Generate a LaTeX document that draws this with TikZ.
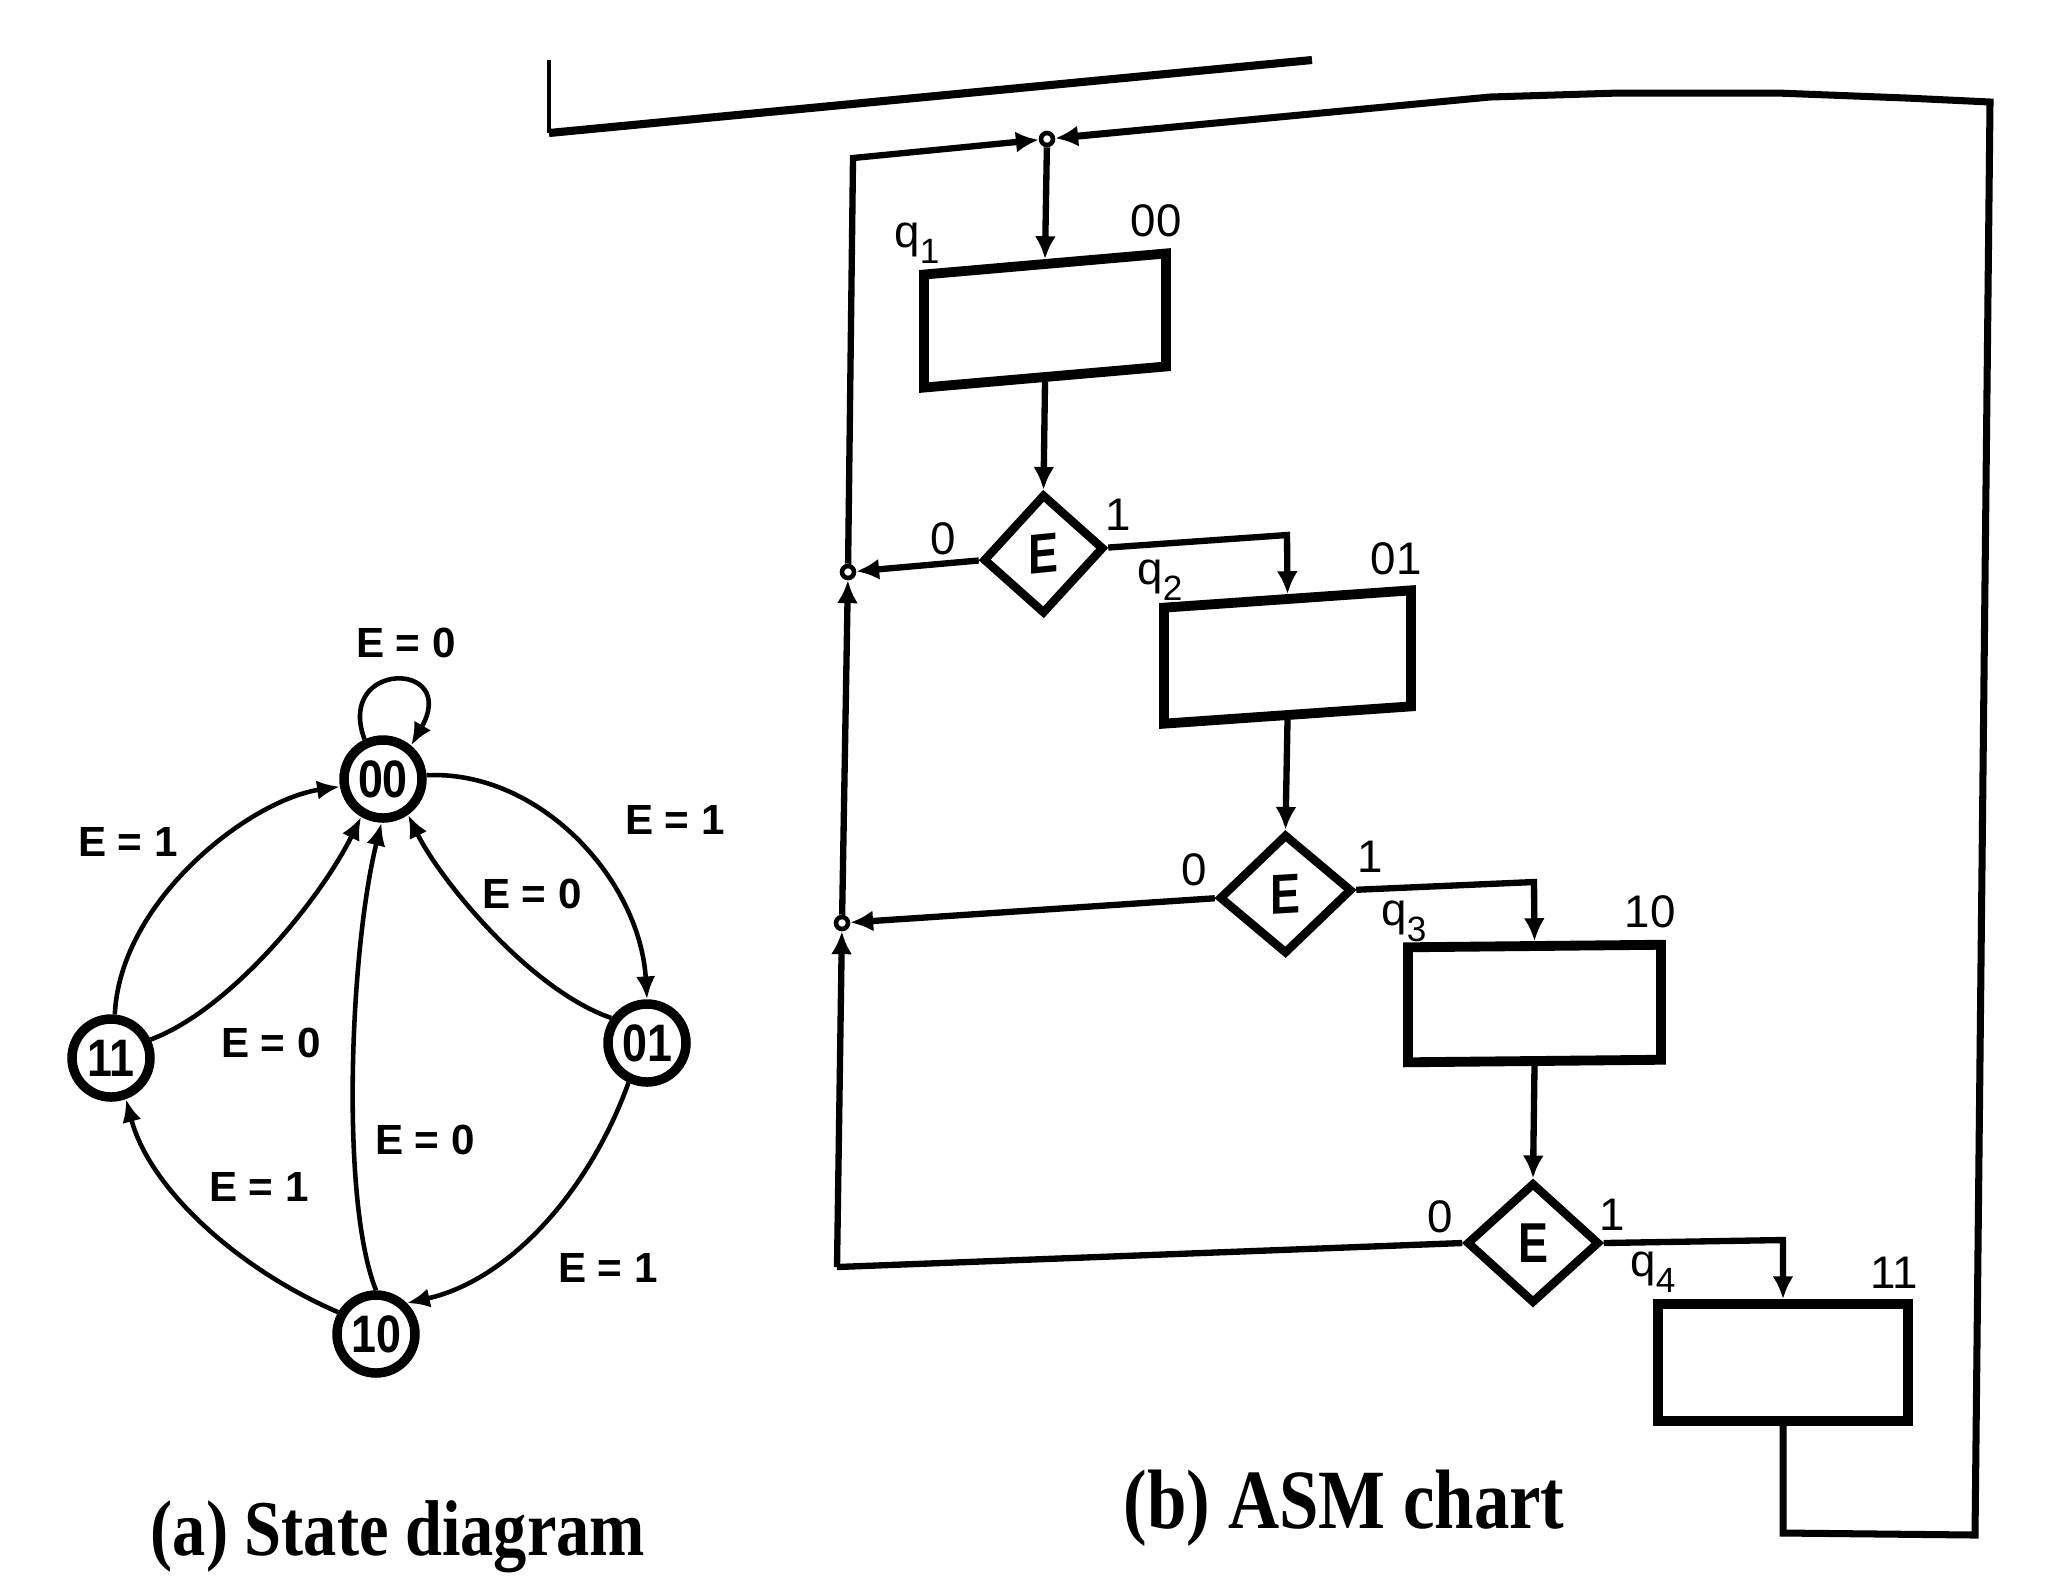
\documentclass[tikz,border=0pt]{standalone}
\usepackage{fontspec}
\setmainfont{Liberation Sans}
\newfontfamily\capfont{Liberation Serif}
\usepackage{graphicx}
\usetikzlibrary{shapes.geometric,arrows.meta}
\newcommand{\qlab}[1]{q\raisebox{-4.5pt}{\fontsize{10}{10}\selectfont #1}}
\begin{document}
\begin{tikzpicture}[x=0.1mm,y=-0.1mm,
  stnode/.style={circle,draw,line width=2.7pt,minimum size=7.8mm,inner sep=0pt,
     font=\fontsize{15}{15}\selectfont\bfseries},
  elab/.style={inner sep=0pt,font=\fontsize{12}{12}\selectfont\bfseries},
  sedge/.style={line width=1.3pt,-{Latex[length=6.5pt,width=5.5pt]}},
  sbox/.style={draw,line width=2.8pt,inner sep=0pt},
  dec/.style={diamond,draw,line width=2.4pt,inner sep=0pt,
     font=\fontsize{16}{16}\selectfont\bfseries},
  junc/.style={circle,draw,line width=1.3pt,fill=white,minimum size=1.2mm,inner sep=0pt},
  flow/.style={line width=1.8pt},
  arr/.style={line width=1.8pt,-{Latex[length=6.5pt,width=6pt]}},
  alab/.style={inner sep=0pt,font=\fontsize{13}{13}\selectfont},
  qlabel/.style={inner sep=0pt,font=\fontsize{13}{13}\selectfont},
  captext/.style={inner sep=0pt,anchor=base west}
]
\useasboundingbox (0,0) rectangle (2048,1582);

% ---------- fragment at top ----------
\coordinate (f1) at (549,60);
\coordinate (f2) at (549,133);
\coordinate (f3) at (1312,60);
\draw[line width=1.2pt] (f1) -- (f2);
\draw[line width=2.3pt] (f2) -- (f3);

% ---------- (a) state diagram ----------
\node[stnode] (s00) at (383,779) {\scalebox{0.85}[1]{00}};
\node[stnode] (s11) at (111,1058) {\scalebox{0.85}[1]{11}};
\node[stnode] (s01) at (647,1043) {\scalebox{0.85}[1]{01}};
\node[stnode] (s10) at (376,1334) {\scalebox{0.85}[1]{10}};

\draw[sedge] (s00.115) .. controls (335,660) and (460,660) .. (s00.50);
\draw[sedge] (s11.85) .. controls (120,900) and (250,800) .. (s00.190);
\draw[sedge] (s11.25) .. controls (230,1010) and (320,900) .. (s00.240);
\draw[sedge] (s00.5) .. controls (540,770) and (640,880) .. (s01.north);
\draw[sedge] (s01.145) .. controls (530,990) and (440,880) .. (s00.305);
\draw[sedge] (s10.north) .. controls (340,1200) and (350,950) .. (s00.268);
\draw[sedge] (s01.245) .. controls (590,1190) and (510,1280) .. (s10.45);
\draw[sedge] (s10.150) .. controls (240,1270) and (150,1190) .. (s11.290);

\node[elab] (l1) at (406,643) {E = 0};
\node[elab] (l2) at (128,842) {E = 1};
\node[elab] (l3) at (675,820) {E = 1};
\node[elab] (l4) at (532,894) {E = 0};
\node[elab] (l5) at (271,1043) {E = 0};
\node[elab] (l6) at (425,1140) {E = 0};
\node[elab] (l7) at (259,1187) {E = 1};
\node[elab] (l8) at (608,1268) {E = 1};

\node[captext] (capa) at (150,1555)
  {\capfont\bfseries\fontsize{22.5}{24}\selectfont\scalebox{0.84}[1]{(a) State diagram}};

% ---------- (b) ASM chart ----------
\begin{scope}[shift={(1045,320.5)}]
  \node[sbox,minimum width=24.2mm,minimum height=11.3mm,yslant=0.087] (b1) at (0,0) {};
\end{scope}
\begin{scope}[shift={(1287.5,657)}]
  \node[sbox,minimum width=24.7mm,minimum height=11.6mm,yslant=0.07] (b2) at (0,0) {};
\end{scope}
\begin{scope}[shift={(1534.5,1003.5)}]
  \node[sbox,minimum width=25.3mm,minimum height=11.5mm,yslant=0.01] (b3) at (0,0) {};
\end{scope}
\begin{scope}[shift={(1783,1362.5)}]
  \node[sbox,minimum width=25mm,minimum height=11.7mm] (b4) at (0,0) {};
\end{scope}

\begin{scope}[shift={(1043.5,554)}]
  \node[dec,minimum width=12.1mm,minimum height=12mm,yslant=0.1] (d1) at (0,0) {\scalebox{0.8}[1]{E}};
\end{scope}
\begin{scope}[shift={(1285.5,894)}]
  \node[dec,minimum width=13.3mm,minimum height=12mm,yslant=0.06] (d2) at (0,0) {\scalebox{0.8}[1]{E}};
\end{scope}
\begin{scope}[shift={(1533,1243)}]
  \node[dec,minimum width=13.3mm,minimum height=12.1mm] (d3) at (0,0) {\scalebox{0.8}[1]{E}};
\end{scope}

\node[junc] (J0) at (1047,139) {};
\node[junc] (J1) at (848,572) {};
\node[junc] (J2) at (842,923) {};

\coordinate (TL) at (853,158);
\coordinate (BL) at (837,1267);
\coordinate (B1) at (1287,535);
\coordinate (B2) at (1534,882);
\coordinate (B3) at (1783,1240);
\coordinate (R1) at (1783,1533);
\coordinate (R2) at (1975,1535);
\coordinate (R3) at (1990,102);
\coordinate (R4) at (1906,98);
\coordinate (R5) at (1777,93);
\coordinate (R6) at (1619,93);
\coordinate (R7) at (1490,97);

\draw[arr] (J0) -- (b1.north);
\draw[arr] (b1.south) -- (d1.north);
\draw[arr] (d1.west) -- (J1);
\draw[arr] (d1.east) -- (B1) -- (b2.north);
\draw[arr] (b2.south) -- (d2.north);
\draw[arr] (d2.west) -- (J2);
\draw[arr] (d2.east) -- (B2) -- (b3.north);
\draw[arr] (b3.south) -- (d3.north);
\draw[arr] (d3.east) -- (B3) -- (b4.north);
\draw[flow] (d3.west) -- (BL);
\draw[arr] (BL) -- (J2);
\draw[arr] (J2) -- (J1);
\draw[arr] (J1) -- (TL) -- (J0);
\draw[arr,line width=2pt] (b4.south) -- (R1) -- (R2) -- (R3) -- (R4) -- (R5) -- (R6) -- (R7) -- (J0);

\node[qlabel] (q1) at (917,243) {\qlab{1}};
\node[qlabel] (q2) at (1160,580) {\qlab{2}};
\node[qlabel] (q3) at (1404,921) {\qlab{3}};
\node[qlabel] (q4) at (1653,1272) {\qlab{4}};
\node[alab] (c1) at (1156,221) {00};
\node[alab] (c2) at (1396,559) {01};
\node[alab] (c3) at (1650,912) {10};
\node[alab] (c4) at (1894,1273) {11};

\node[alab] (z1) at (943,539) {0};
\node[alab] (o1) at (1118,515) {1};
\node[alab] (z2) at (1194,870) {0};
\node[alab] (o2) at (1370,857) {1};
\node[alab] (z3) at (1440,1217) {0};
\node[alab] (o3) at (1612,1215) {1};

\node[captext] (capb) at (1123,1528)
  {\capfont\bfseries\fontsize{24}{26}\selectfont\scalebox{0.84}[1]{(b) ASM chart}};
\end{tikzpicture}
\end{document}
